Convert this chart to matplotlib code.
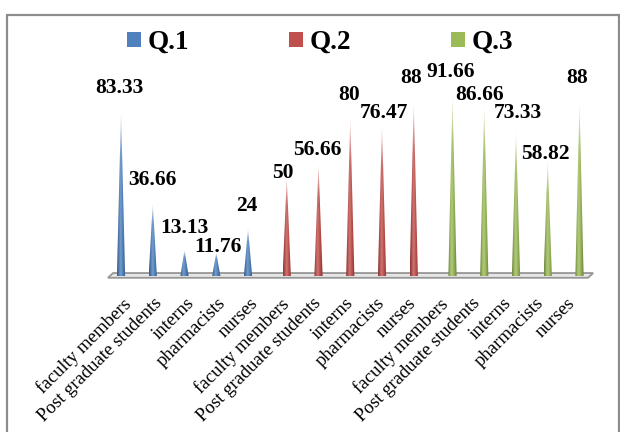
import numpy as np
import matplotlib
matplotlib.use("Agg")
import matplotlib.pyplot as plt
from matplotlib.patches import Polygon, Patch, Rectangle
from matplotlib.colors import to_rgb

plt.rcParams['font.family'] = ['Liberation Serif', 'DejaVu Serif']

# ---- data -------------------------------------------------------------
groups = ["faculty members", "Post graduate students", "interns",
          "pharmacists", "nurses"]
series_names = ["Q.1", "Q.2", "Q.3"]
q1_values = [83.33, 36.66, 13.13, 11.76, 24]
q2_values = [50, 56.66, 80, 76.47, 88]
q3_values = [91.66, 86.66, 73.33, 58.82, 88]
series_colors = ["#4F81BD", "#C0504D", "#9BBB59"]

# label placement tweaks in pixels: (dx, height of label centre above tip)
q1_label_nudge = [(-1.5, 23), (0, 23), (-0.5, 22), (2, 6), (-1, 22)]
q2_label_nudge = [(-4, 4), (-1, 14), (-1.3, 23), (2, 12), (-2.5, 23.5)]
q3_label_nudge = [(-2, 23), (-5, 9.5), (1.5, 18), (-2, 6), (-2, 23.5)]

series_values = [q1_values, q2_values, q3_values]
series_nudges = [q1_label_nudge, q2_label_nudge, q3_label_nudge]
categories = groups * len(series_names)
n = len(categories)

# ---- figure -------------------------------------------------------------
W, H = 620, 432
fig = plt.figure(figsize=(W / 100, H / 100), dpi=100)
fig.patch.set_facecolor("white")

x0, dx = 128.0, 31.75          # pixel position of first category and spacing
y_base, py = 276.0, 1.98       # pixel row of the floor and pixels per unit
xlim = (-1, 15)
ylim = (-4, 110)
left_px = x0 + xlim[0] * dx
right_px = x0 + xlim[1] * dx
top_px = y_base - ylim[1] * py
bot_px = y_base - ylim[0] * py
ax = fig.add_axes([left_px / W, (H - bot_px) / H,
                   (right_px - left_px) / W, (bot_px - top_px) / H])
ax.set_xlim(*xlim)
ax.set_ylim(*ylim)
ax.axis("off")

# floor plate
depth_dx, depth_dy = 0.16, 2.4
fl, fr = -0.63, n - 1 + 0.49
floor = Polygon([(fl, -0.9), (fr, -0.9), (fr + depth_dx, -0.9 + depth_dy),
                 (fl + depth_dx, -0.9 + depth_dy)], closed=True,
                facecolor="#e6e6e6", edgecolor="#969696", lw=1.3, zorder=1)
ax.add_patch(floor)


def draw_cone(ax, x, h, color, hw):
    nx, ny = 28, 220
    u = np.linspace(-1, 1, nx)[None, :, None]
    t = np.linspace(0, 1, ny)[:, None, None]
    base = np.array(to_rgb(color))[None, None, :]
    dark = 0.28 * np.abs(u) ** 2 + 0.08 * np.clip(u, 0, 1)
    light = 0.2 * np.exp(-((u + 0.2) / 0.35) ** 2)
    c = base * (1 - dark)
    c = c + (1 - c) * light
    fade = 0.9 * np.clip((t - 0.7) / 0.3, 0, 1) ** 1.3
    c = c + (1 - c) * fade
    img = np.clip(c, 0, 1) * np.ones((ny, nx, 3))
    im = ax.imshow(img, extent=(x - hw, x + hw, 0, h), origin="lower",
                   aspect="auto", interpolation="bilinear", zorder=3)
    tri = Polygon([(x - hw, 0), (x + hw, 0), (x, h)], closed=True,
                  transform=ax.transData)
    im.set_clip_path(tri)


offsets = [-0.22, 0.0, 0.22]
hw = 0.13
for s, (vals, nudges, color) in enumerate(zip(series_values, series_nudges,
                                              series_colors)):
    for k, v in enumerate(vals):
        cat = s * len(groups) + k
        x = cat + offsets[s]
        draw_cone(ax, x, v, color, hw)
        ndx, ndy = nudges[k]
        ax.annotate(f"{v:g}", xy=(x, v), xytext=(ndx, ndy),
                    textcoords="offset pixels", ha="center", va="center",
                    fontsize=15.5, fontweight="bold", color="black",
                    zorder=5)

ax.set_xlim(*xlim)
ax.set_ylim(*ylim)

# category labels
for i, lab in enumerate(categories):
    ax.annotate(lab, xy=(i, 0), xytext=(-6, -19), textcoords="offset pixels",
                rotation=45, rotation_mode="anchor", ha="right", va="top",
                fontsize=13.5, color="black")

# legend
handles = [Patch(facecolor=c, edgecolor="none") for c in series_colors]
fig.legend(handles, series_names, loc="center left",
           bbox_to_anchor=(127 / W, 1 - 42.5 / H), ncol=3, frameon=False,
           prop={"size": 19.5, "weight": "bold"}, handlelength=0.5,
           handleheight=0.5, handletextpad=0.25, columnspacing=3.7,
           borderpad=0, borderaxespad=0)

# outer frame
fig.patches.append(Rectangle((6.7 / W, -0.05), (618.6 - 6.7) / W,
                             1.05 - 14.6 / H, transform=fig.transFigure,
                             fill=False, edgecolor="#8c8c8c", lw=1.6))

fig.savefig("out.png", dpi=100, facecolor="white")
